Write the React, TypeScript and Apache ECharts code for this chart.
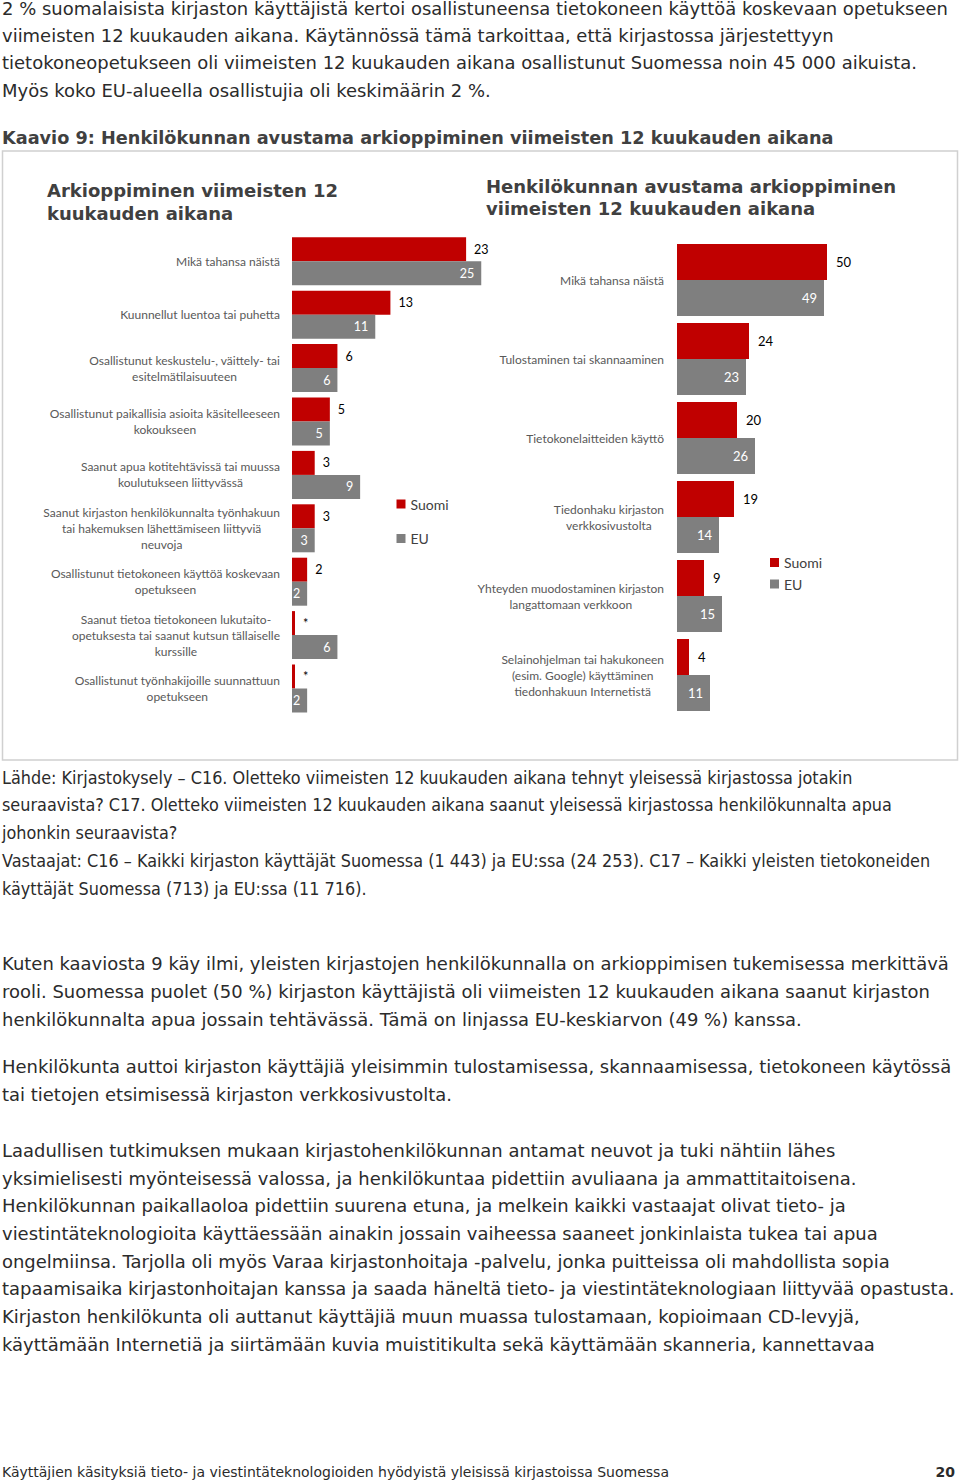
import React, { useEffect, useRef } from "react";
import * as echarts from "echarts";

const seriesNames = ["Suomi", "EU"];

const leftCategories = [
  "Mikä tahansa näistä",
  "Kuunnellut luentoa tai puhetta",
  "Osallistunut keskustelu-, väittely- tai\nesitelmätilaisuuteen",
  "Osallistunut paikallisia asioita käsitelleeseen\nkokoukseen",
  "Saanut apua kotitehtävissä tai muussa\nkoulutukseen liittyvässä",
  "Saanut kirjaston henkilökunnalta työnhakuun\ntai hakemuksen lähettämiseen liittyviä\nneuvoja",
  "Osallistunut tietokoneen käyttöä koskevaan\nopetukseen",
  "Saanut tietoa tietokoneen lukutaito-\nopetuksesta tai saanut kutsun tällaiselle\nkurssille",
  "Osallistunut työnhakijoille suunnattuun\nopetukseen",
];
const leftSuomi = [23, 13, 6, 5, 3, 3, 2, 0.4, 0.4];
const leftSuomiLabels = ["23", "13", "6", "5", "3", "3", "2", "*", "*"];
const leftEU = [25, 11, 6, 5, 9, 3, 2, 6, 2];

const rightCategories = [
  "Mikä tahansa näistä",
  "Tulostaminen tai skannaaminen",
  "Tietokonelaitteiden käyttö",
  "Tiedonhaku kirjaston\nverkkosivustolta",
  "Yhteyden muodostaminen kirjaston\nlangattomaan verkkoon",
  "Selainohjelman tai hakukoneen\n(esim. Google) käyttäminen\ntiedonhakuun Internetistä",
];
const rightSuomi = [50, 24, 20, 19, 9, 4];
const rightEU = [49, 23, 26, 14, 15, 11];

const introLines = [
  "2 % suomalaisista kirjaston käyttäjistä kertoi osallistuneensa tietokoneen käyttöä koskevaan opetukseen",
  "viimeisten 12 kuukauden aikana. Käytännössä tämä tarkoittaa, että kirjastossa järjestettyyn",
  "tietokoneopetukseen oli viimeisten 12 kuukauden aikana osallistunut Suomessa noin 45 000 aikuista.",
  "Myös koko EU-alueella osallistujia oli keskimäärin 2 %.",
];
const chartTitle = "Kaavio 9: Henkilökunnan avustama arkioppiminen viimeisten 12 kuukauden aikana";
const leftTitle = "Arkioppiminen viimeisten 12\nkuukauden aikana";
const rightTitle = "Henkilökunnan avustama arkioppiminen\nviimeisten 12 kuukauden aikana";
const sourceLines = [
  "Lähde: Kirjastokysely – C16. Oletteko viimeisten 12 kuukauden aikana tehnyt yleisessä kirjastossa jotakin",
  "seuraavista? C17. Oletteko viimeisten 12 kuukauden aikana saanut yleisessä kirjastossa henkilökunnalta apua",
  "johonkin seuraavista?",
  "Vastaajat: C16 – Kaikki kirjaston käyttäjät Suomessa (1 443) ja EU:ssa (24 253). C17 – Kaikki yleisten tietokoneiden",
  "käyttäjät Suomessa (713) ja EU:ssa (11 716).",
];
const para2Lines = [
  "Kuten kaaviosta 9 käy ilmi, yleisten kirjastojen henkilökunnalla on arkioppimisen tukemisessa merkittävä",
  "rooli. Suomessa puolet (50 %) kirjaston käyttäjistä oli viimeisten 12 kuukauden aikana saanut kirjaston",
  "henkilökunnalta apua jossain tehtävässä. Tämä on linjassa EU-keskiarvon (49 %) kanssa.",
];
const para3Lines = [
  "Henkilökunta auttoi kirjaston käyttäjiä yleisimmin tulostamisessa, skannaamisessa, tietokoneen käytössä",
  "tai tietojen etsimisessä kirjaston verkkosivustolta.",
];
const para4Lines = [
  "Laadullisen tutkimuksen mukaan kirjastohenkilökunnan antamat neuvot ja tuki nähtiin lähes",
  "yksimielisesti myönteisessä valossa, ja henkilökuntaa pidettiin avuliaana ja ammattitaitoisena.",
  "Henkilökunnan paikallaoloa pidettiin suurena etuna, ja melkein kaikki vastaajat olivat tieto- ja",
  "viestintäteknologioita käyttäessään ainakin jossain vaiheessa saaneet jonkinlaista tukea tai apua",
  "ongelmiinsa. Tarjolla oli myös Varaa kirjastonhoitaja -palvelu, jonka puitteissa oli mahdollista sopia",
  "tapaamisaika kirjastonhoitajan kanssa ja saada häneltä tieto- ja viestintäteknologiaan liittyvää opastusta.",
  "Kirjaston henkilökunta oli auttanut käyttäjiä muun muassa tulostamaan, kopioimaan CD-levyjä,",
  "käyttämään Internetiä ja siirtämään kuvia muistitikulta sekä käyttämään skanneria, kannettavaa",
];
const footerText = "Käyttäjien käsityksiä tieto- ja viestintäteknologioiden hyödyistä yleisissä kirjastoissa Suomessa";
const pageNumber = "20";

const RED = "#C00000";
const GRAY = "#7F7F7F";
const BODY_FONT = "DejaVu Sans";
const CHART_FONT = "Lato";

function lineTexts(lines: string[], y0: number, step: number, size: number, sx: number) {
  return lines.map((t, i) => ({
    type: "text",
    x: 2,
    y: y0 + i * step,
    scaleX: sx,
    style: {
      text: t,
      fontFamily: BODY_FONT,
      fontSize: size,
      fill: "#2b2b2b",
      align: "left",
      verticalAlign: "middle",
    },
  }));
}

const catLabel = (v: string) =>
  v
    .split("\n")
    .map((l) => "{c|" + l + "}")
    .join("\n");

const catRich = {
  c: {
    align: "center",
    fontFamily: CHART_FONT,
    fontSize: 12,
    color: "#595959",
    lineHeight: 16,
  },
};

const legendBase = {
  data: seriesNames,
  orient: "vertical",
  itemWidth: 9,
  itemHeight: 9,
  icon: "rect",
  padding: 0,
  selectedMode: false,
  textStyle: { fontFamily: CHART_FONT, fontSize: 14, color: "#404040", lineHeight: 14 },
};

export default function App() {
  const ref = useRef<HTMLDivElement>(null);
  useEffect(() => {
    if (!ref.current) return;
    const chart = echarts.init(ref.current, null, { renderer: "svg" });
    const option = {
      animation: false,
      backgroundColor: "#ffffff",
      graphic: [
        ...lineTexts(introLines, 9, 27.3, 17, 1.058),
        {
          type: "text",
          x: 2,
          y: 138,
          style: {
            text: chartTitle,
            fontFamily: BODY_FONT,
            fontWeight: "bold",
            fontSize: 17.7,
            fill: "#404040",
            align: "left",
            verticalAlign: "middle",
          },
        },
        {
          type: "rect",
          shape: { x: 2.5, y: 151, width: 955, height: 609 },
          style: { fill: "none", stroke: "#d0d0d0", lineWidth: 1.5 },
        },
        {
          type: "text",
          x: 47,
          y: 202,
          style: {
            text: leftTitle,
            fontFamily: BODY_FONT,
            fontWeight: "bold",
            fontSize: 18,
            lineHeight: 23,
            fill: "#404040",
            align: "left",
            verticalAlign: "middle",
          },
        },
        {
          type: "text",
          x: 486,
          y: 197,
          style: {
            text: rightTitle,
            fontFamily: BODY_FONT,
            fontWeight: "bold",
            fontSize: 18,
            lineHeight: 22,
            fill: "#404040",
            align: "left",
            verticalAlign: "middle",
          },
        },
        ...lineTexts(sourceLines, 778, 27.75, 17, 0.946),
        ...lineTexts(para2Lines, 964, 28, 17, 1.058),
        ...lineTexts(para3Lines, 1067, 28, 17, 1.058),
        ...lineTexts(para4Lines, 1151, 27.7, 17, 1.057),
        {
          type: "text",
          x: 2,
          y: 1472,
          style: {
            text: footerText,
            fontFamily: BODY_FONT,
            fontSize: 14,
            fill: "#2b2b2b",
            align: "left",
            verticalAlign: "middle",
          },
        },
        {
          type: "text",
          x: 955,
          y: 1472,
          style: {
            text: pageNumber,
            fontFamily: BODY_FONT,
            fontWeight: "bold",
            fontSize: 14,
            fill: "#2b2b2b",
            align: "right",
            verticalAlign: "middle",
          },
        },
      ],
      legend: [
        { ...legendBase, left: 396.5, top: 497, itemGap: 20.5 },
        { ...legendBase, left: 770, top: 555.5, itemGap: 7.5 },
      ],
      grid: [
        { left: 292, top: 234.6, width: 25 * 7.57, height: 480.6, containLabel: false },
        { left: 677, top: 240.5, width: 150, height: 474, containLabel: false },
      ],
      xAxis: [
        { type: "value", gridIndex: 0, min: 0, max: 25, show: false },
        { type: "value", gridIndex: 1, min: 0, max: 50, show: false },
      ],
      yAxis: [
        {
          type: "category",
          gridIndex: 0,
          data: leftCategories,
          inverse: true,
          axisLine: { show: false },
          axisTick: { show: false },
          splitLine: { show: false },
          axisLabel: { margin: 12, formatter: catLabel, rich: catRich, interval: 0 },
        },
        {
          type: "category",
          gridIndex: 1,
          data: rightCategories,
          inverse: true,
          axisLine: { show: false },
          axisTick: { show: false },
          splitLine: { show: false },
          axisLabel: { margin: 13, formatter: catLabel, rich: catRich, interval: 0 },
        },
      ],
      series: [
        {
          name: seriesNames[0],
          type: "bar",
          xAxisIndex: 0,
          yAxisIndex: 0,
          data: leftSuomi,
          barWidth: 24,
          barGap: "0%",
          itemStyle: { color: RED },
          label: {
            show: true,
            position: "right",
            distance: 8,
            color: "#000",
            fontFamily: CHART_FONT,
            fontSize: 12.5,
            formatter: (p: any) => leftSuomiLabels[p.dataIndex],
          },
        },
        {
          name: seriesNames[1],
          type: "bar",
          xAxisIndex: 0,
          yAxisIndex: 0,
          data: leftEU,
          barWidth: 24,
          barGap: "0%",
          itemStyle: { color: GRAY },
          label: {
            show: true,
            position: "insideRight",
            distance: 7,
            color: "#fff",
            fontFamily: CHART_FONT,
            fontSize: 12.5,
          },
        },
        {
          name: seriesNames[0],
          type: "bar",
          xAxisIndex: 1,
          yAxisIndex: 1,
          data: rightSuomi,
          barWidth: 36,
          barGap: "0%",
          itemStyle: { color: RED },
          label: {
            show: true,
            position: "right",
            distance: 9,
            color: "#000",
            fontFamily: CHART_FONT,
            fontSize: 13,
          },
        },
        {
          name: seriesNames[1],
          type: "bar",
          xAxisIndex: 1,
          yAxisIndex: 1,
          data: rightEU,
          barWidth: 36,
          barGap: "0%",
          itemStyle: { color: GRAY },
          label: {
            show: true,
            position: "insideRight",
            distance: 7,
            color: "#fff",
            fontFamily: CHART_FONT,
            fontSize: 13,
          },
        },
      ],
    };
    chart.setOption(option as any);
    return () => chart.dispose();
  }, []);
  return (
    <div
      ref={ref}
      style={{ position: "absolute", left: 0, top: 0, width: 960, height: 1483, background: "#fff" }}
    />
  );
}
